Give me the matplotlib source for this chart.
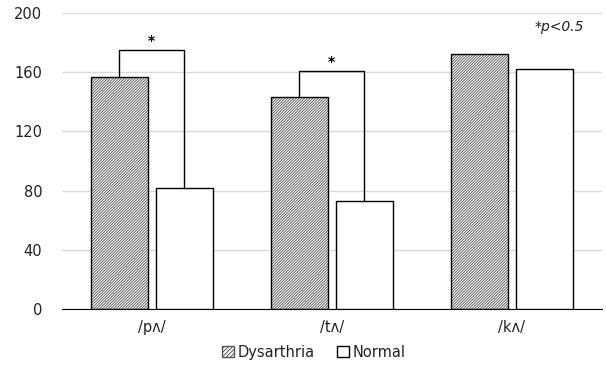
import numpy as np
import matplotlib.pyplot as plt
from matplotlib.patches import Patch

plt.rcParams['font.family'] = ['DejaVu Sans']
plt.rcParams['hatch.linewidth'] = 0.7

categories = ['/pʌ/', '/tʌ/', '/kʌ/']
dysarthria = [157, 143, 172]
normal = [82, 73, 162]
# significance brackets: (category index, bracket height)
brackets = [(0, 175), (1, 161)]

x = np.arange(len(categories))
w = 0.317
off = 0.18
hatch = '/' * 12

fig = plt.figure(figsize=(6.06, 3.78), dpi=100)
ax = fig.add_axes([0.102, 0.1825, 0.891, 0.783])

# hatched fill, then black outline on top
ax.bar(x - off, dysarthria, w, color='white', edgecolor='#666666', hatch=hatch, linewidth=0, zorder=2)
ax.bar(x - off, dysarthria, w, fill=False, edgecolor='black', linewidth=1.0, zorder=3)
ax.bar(x + off, normal, w, color='white', edgecolor='black', linewidth=1.0, zorder=3)

for i, h in brackets:
    xl, xr = i - off, i + off
    ax.plot([xl, xl, xr, xr], [dysarthria[i], h, h, normal[i]], color='black', lw=1.0, zorder=4)
    ax.text(i, h + 1.5, '*', ha='center', va='bottom', fontsize=10, fontweight='bold')

ax.text(0.968, 0.953, '*p<0.5', transform=ax.transAxes, ha='right', va='center',
        fontsize=10, style='italic', color='#222222')

ax.set_xlim(-0.5, 2.5)
ax.set_ylim(0, 200)
ax.set_yticks([0, 40, 80, 120, 160, 200])
ax.set_xticks(x)
ax.set_xticklabels(categories)
ax.yaxis.grid(True, color='#d9d9d9', lw=1.0, zorder=0)
ax.set_axisbelow(True)
for s in ['left', 'right', 'top']:
    ax.spines[s].set_visible(False)
ax.spines['bottom'].set_color('black')
ax.tick_params(axis='both', length=0, labelsize=10.5, colors='#222222')
ax.tick_params(axis='y', pad=14)
ax.tick_params(axis='x', pad=8)

handles = [Patch(facecolor='white', edgecolor='#555555', hatch='/' * 8, label='Dysarthria'),
           Patch(facecolor='white', edgecolor='black', label='Normal')]
fig.legend(handles=handles, loc='center', bbox_to_anchor=(0.518, 0.068), ncol=2, frameon=False,
           fontsize=10.5, handlelength=0.8, handleheight=0.8, handletextpad=0.3, columnspacing=1.5,
           labelcolor='#222222')

fig.savefig('out.png', dpi=100)
